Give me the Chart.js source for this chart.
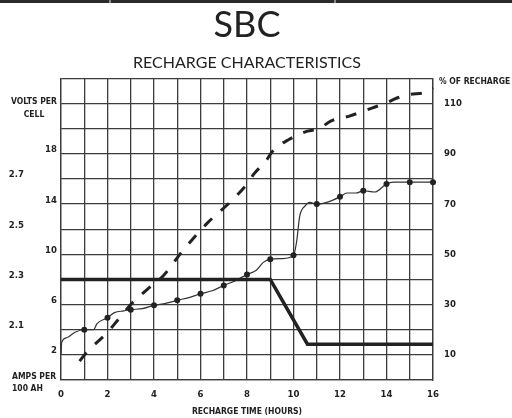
<!DOCTYPE html>
<html>
<head>
<meta charset="utf-8">
<title>SBC Recharge Characteristics</title>
<script src="https://cdn.jsdelivr.net/npm/chart.js@4.4.1/dist/chart.umd.min.js"></script>
<style>
  html, body { margin: 0; padding: 0; background: #fff; }
  #wrap { position: relative; width: 512px; height: 418px; }
  #topbar { position: absolute; left: 0; top: 0; width: 512px; height: 3px; background: #2b2b2b; }
  #topbar span { position: absolute; top: 0; width: 2px; height: 3px; background: #8a8a8a; }
</style>
</head>
<body>
<div id="wrap">
  <canvas id="chart" width="512" height="418"></canvas>
  <div id="topbar"><span style="left:109px"></span><span style="left:334px"></span></div>
</div>
<script>
// charge current (amps per 100 AH)
const currentHours = [0, 9, 10.6, 16];
const currentAmps = [8, 8, 2.85, 2.85];

// cell voltage
const voltHours = [0, 0.03, 0.25, 0.6, 1, 1.4, 1.55, 2, 2.3, 2.7, 3, 3.5, 4, 4.5, 5, 5.5, 6, 6.5, 7, 7.5, 8, 8.4, 8.7, 9, 9.5, 10, 10.13, 10.27, 10.5, 10.7, 11, 11.5, 12, 12.3, 12.7, 13, 13.5, 14, 14.3, 15, 16];
const voltValues = [2.0, 2.05, 2.068, 2.09, 2.1, 2.1, 2.124, 2.148, 2.168, 2.175, 2.18, 2.184, 2.197, 2.205, 2.217, 2.228, 2.243, 2.255, 2.276, 2.295, 2.32, 2.337, 2.368, 2.38, 2.383, 2.396, 2.448, 2.553, 2.593, 2.607, 2.6, 2.609, 2.629, 2.644, 2.644, 2.653, 2.648, 2.68, 2.687, 2.687, 2.687];

// % of recharge
const rechargeHours = [0.8, 1.1, 2, 2.5, 3, 3.7, 4.4, 5.2, 6.3, 7.3, 8, 8.3, 8.8, 9.1, 9.8, 10.6, 11.1, 11.6, 12.4, 13.4, 14, 14.4, 15, 15.7, 16];
const rechargePct = [7.5, 11, 19, 24.5, 30, 36, 41.5, 51, 62.5, 71, 78, 82, 87, 91, 95.7, 99, 100, 103, 105, 108.3, 110.3, 112, 113.6, 114.5, 116.3];

// tick labels
const hourLabels = [0, 2, 4, 6, 8, 10, 12, 14, 16];
const ampLabels = [2, 6, 10, 14, 18];
const voltLabels = [2.1, 2.3, 2.5, 2.7];
const pctLabels = [10, 30, 50, 70, 90, 110];

const ink = "#222";
const gridColor = "#3c3c3c";
const narrow = "'DejaVu Sans Condensed', 'DejaVu Sans', sans-serif";
const labelFont = { family: narrow, size: 9.5, weight: "bold" };

function toPoints(xs, ys) {
  return xs.map((x, i) => ({ x: x, y: ys[i] }));
}

// extra axis captions that sit horizontally beside the plot
const sideLabels = {
  id: "sideLabels",
  afterDraw(chart) {
    const { ctx, chartArea } = chart;
    ctx.save();
    ctx.fillStyle = ink;
    ctx.font = "bold 8.5px " + narrow;
    ctx.textBaseline = "middle";
    ctx.textAlign = "center";
    ctx.fillText("VOLTS PER", 34, chartArea.top + 23);
    ctx.fillText("CELL", 34, chartArea.top + 36);
    ctx.textAlign = "left";
    ctx.fillText("AMPS PER", 12, chartArea.bottom - 3);
    ctx.fillText("100 AH", 12, chartArea.bottom + 9);
    ctx.fillText("% OF RECHARGE", chartArea.right + 6, chartArea.top + 3);
    ctx.restore();
  },
};

new Chart(document.getElementById("chart"), {
  type: "line",
  data: {
    datasets: [
      {
        label: "Amps",
        yAxisID: "amps",
        data: toPoints(currentHours, currentAmps),
        borderColor: ink,
        borderWidth: 3.5,
        pointRadius: 0,
        tension: 0,
      },
      {
        label: "Volts",
        yAxisID: "volts",
        data: toPoints(voltHours, voltValues),
        borderColor: "#333",
        borderWidth: 1.2,
        cubicInterpolationMode: "monotone",
        pointRadius: (c) => {
          const h = voltHours[c.dataIndex];
          return Number.isInteger(h) && h > 0 ? 3 : 0;
        },
        pointBackgroundColor: ink,
        pointBorderWidth: 0,
        clip: 5,
      },
      {
        label: "% of recharge",
        yAxisID: "pct",
        data: toPoints(rechargeHours, rechargePct),
        borderColor: ink,
        borderWidth: 3,
        borderDash: [11, 12],
        cubicInterpolationMode: "monotone",
        pointRadius: 0,
        clip: 4,
      },
    ],
  },
  options: {
    responsive: false,
    animation: false,
    layout: { padding: 0 },
    plugins: {
      legend: { display: false },
      tooltip: { enabled: false },
      title: {
        display: true,
        text: "SBC",
        color: ink,
        fullSize: false,
        font: { family: "Lato, 'Open Sans', sans-serif", size: 36, weight: "normal" },
        padding: { top: 4, bottom: 2 },
      },
      subtitle: {
        display: true,
        text: "RECHARGE CHARACTERISTICS",
        color: ink,
        fullSize: false,
        font: { family: "Lato, 'Open Sans', sans-serif", size: 16, weight: "normal" },
        padding: { top: 4, bottom: 6 },
      },
    },
    scales: {
      x: {
        type: "linear",
        position: "bottom",
        min: 0,
        max: 16,
        ticks: {
          stepSize: 1,
          autoSkip: false,
          maxRotation: 0,
          padding: 9,
          color: ink,
          font: labelFont,
          callback: (v) => (hourLabels.includes(v) ? v : ""),
        },
        grid: { color: gridColor, lineWidth: 1.3, drawTicks: false },
        border: { color: gridColor, width: 1.3 },
        title: {
          display: true,
          text: "RECHARGE TIME (HOURS)",
          color: ink,
          font: { family: narrow, size: 8.5, weight: "bold" },
          padding: { top: 0, bottom: 1 },
        },
        afterFit: (s) => { s.height = 38; },
      },
      amps: {
        type: "linear",
        position: "left",
        weight: 0,
        min: 0,
        max: 24,
        ticks: {
          stepSize: 2,
          autoSkip: false,
          padding: 4,
          labelOffset: -4,
          color: ink,
          font: labelFont,
          callback: (v) => (ampLabels.includes(v) ? v : ""),
        },
        grid: { color: gridColor, lineWidth: 1.3, drawTicks: false },
        border: { color: gridColor, width: 1.3 },
        afterFit: (s) => { s.width = 27; },
      },
      volts: {
        type: "linear",
        position: "left",
        weight: 1,
        min: 1.9,
        max: 3.1,
        afterBuildTicks: (axis) => { axis.ticks = voltLabels.map((v) => ({ value: v })); },
        ticks: {
          padding: 2,
          labelOffset: -4,
          color: ink,
          font: labelFont,
          callback: (v) => v.toFixed(1),
        },
        grid: { display: false },
        border: { display: false },
        afterFit: (s) => { s.width = 34; },
      },
      pct: {
        type: "linear",
        position: "right",
        min: 0,
        max: 120,
        afterBuildTicks: (axis) => { axis.ticks = pctLabels.map((v) => ({ value: v })); },
        ticks: { padding: 3, color: ink, font: labelFont },
        grid: { display: false },
        border: { color: gridColor, width: 1.3 },
        afterFit: (s) => { s.width = 79; },
      },
    },
  },
  plugins: [sideLabels],
});
</script>
</body>
</html>
